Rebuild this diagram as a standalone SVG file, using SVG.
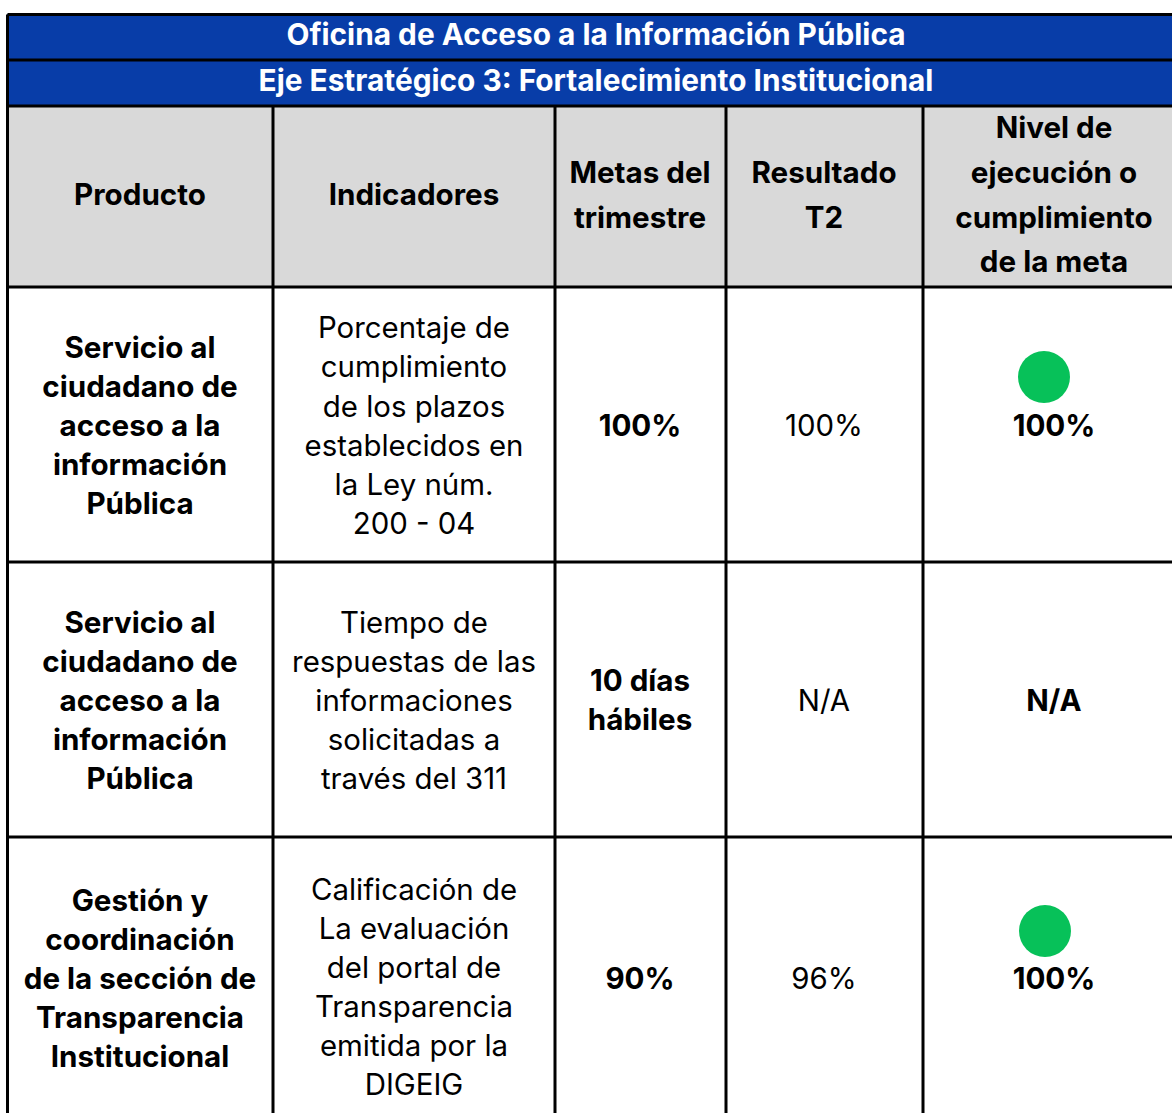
<svg xmlns="http://www.w3.org/2000/svg" width="1172" height="1113" viewBox="0 0 1172 1113">
<style>
text{font-family:Inter,"Liberation Sans",sans-serif;text-anchor:middle;fill:#000}
.t{font-weight:700;font-size:29.8px;fill:#fff}
.h{font-weight:700;font-size:29.6px}
.b{font-weight:700;font-size:29.6px}
.r{font-weight:400;font-size:29.4px}
.ln{stroke:#000;stroke-width:3;fill:none}
</style>
<rect width="1172" height="1113" fill="#fff"/>
<g id="title"><rect x="7" y="14" width="1180" height="46" fill="#083DA8"/><text class="t" x="596" y="45">Oficina de Acceso a la Información Pública</text></g>
<g id="subtitle"><rect x="7" y="60" width="1180" height="46" fill="#083DA8"/><text class="t" x="596" y="91">Eje Estratégico 3: Fortalecimiento Institucional</text></g>
<g id="header"><rect x="7" y="106" width="1180" height="181" fill="#D9D9D9"/>
<text class="h" x="140" y="205">Producto</text>
<text class="h" x="414" y="205">Indicadores</text>
<text class="h" x="640" y="183">Metas del</text><text class="h" x="640" y="228">trimestre</text>
<text class="h" x="824" y="183">Resultado</text><text class="h" x="824" y="228">T2</text>
<text class="h" x="1054" y="138">Nivel de</text><text class="h" x="1054" y="183">ejecución o</text><text class="h" x="1054" y="228">cumplimiento</text><text class="h" x="1054" y="272">de la meta</text>
</g>
<g id="row1">
<text class="b" x="140" y="358">Servicio al</text><text class="b" x="140" y="397">ciudadano de</text><text class="b" x="140" y="436">acceso a la</text><text class="b" x="140" y="475">información</text><text class="b" x="140" y="514">Pública</text>
<text class="r" x="414" y="338">Porcentaje de</text><text class="r" x="414" y="377">cumplimiento</text><text class="r" x="414" y="417">de los plazos</text><text class="r" x="414" y="456">establecidos en</text><text class="r" x="414" y="495">la Ley núm.</text><text class="r" x="414" y="534">200 - 04</text>
<text class="b" x="640" y="436">100%</text>
<text class="r" x="824" y="436">100%</text>
<circle cx="1044" cy="377" r="26" fill="#07C159"/>
<text class="b" x="1054" y="436">100%</text>
</g>
<g id="row2">
<text class="b" x="140" y="633">Servicio al</text><text class="b" x="140" y="672">ciudadano de</text><text class="b" x="140" y="711">acceso a la</text><text class="b" x="140" y="750">información</text><text class="b" x="140" y="789">Pública</text>
<text class="r" x="414" y="633">Tiempo de</text><text class="r" x="414" y="672">respuestas de las</text><text class="r" x="414" y="711">informaciones</text><text class="r" x="414" y="750">solicitadas a</text><text class="r" x="414" y="789">través del 311</text>
<text class="b" x="640" y="691">10 días</text><text class="b" x="640" y="730">hábiles</text>
<text class="r" x="824" y="711">N/A</text>
<text class="b" x="1054" y="711">N/A</text>
</g>
<g id="row3">
<text class="b" x="140" y="911">Gestión y</text><text class="b" x="140" y="950">coordinación</text><text class="b" x="140" y="989">de la sección de</text><text class="b" x="140" y="1028">Transparencia</text><text class="b" x="140" y="1067">Institucional</text>
<text class="r" x="414" y="900">Calificación de</text><text class="r" x="414" y="939">La evaluación</text><text class="r" x="414" y="978">del portal de</text><text class="r" x="414" y="1017">Transparencia</text><text class="r" x="414" y="1056">emitida por la</text><text class="r" x="414" y="1095">DIGEIG</text>
<text class="b" x="640" y="989">90%</text>
<text class="r" x="824" y="989">96%</text>
<circle cx="1045" cy="931" r="26" fill="#07C159"/>
<text class="b" x="1054" y="989">100%</text>
</g>
<g id="connectors">
<path class="ln" d="M7.5 14.5H1180M7.5 60H1180M7.5 106H1180M7.5 287H1180M7.5 562H1180M7.5 837H1180M7.5 14.5V1113M273 106V1113M555 106V1113M726 106V1113M923 106V1113"/>
</g>
</svg>
